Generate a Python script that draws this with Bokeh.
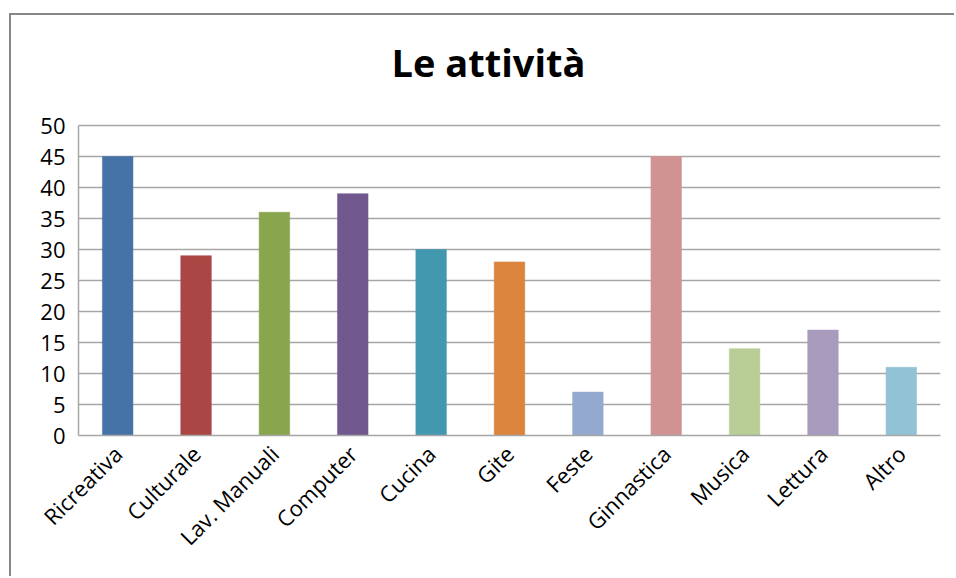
import math
from bokeh.plotting import figure
from bokeh.models import ColumnDataSource, FixedTicker, Label, Range1d
from bokeh.embed import file_html
from bokeh.resources import INLINE

categories = ["Ricreativa", "Culturale", "Lav. Manuali", "Computer", "Cucina", "Gite",
              "Feste", "Ginnastica", "Musica", "Lettura", "Altro"]
values = [45, 29, 36, 39, 30, 28, 7, 45, 14, 17, 11]
colors = ["#4572A7", "#AA4643", "#89A54E", "#71588F", "#4198AF", "#DB843D",
          "#93A9CF", "#D19392", "#B9CD96", "#A99BBD", "#92C3D4"]
y_ticks = [0, 5, 10, 15, 20, 25, 30, 35, 40, 45, 50]
y_max = 50
title_text = "Le attività"

src = ColumnDataSource(dict(cat=categories, val=values, col=colors))

# the frame is extended upwards (beyond the axis maximum) to leave room for the title
p = figure(x_range=categories, y_range=Range1d(0, 66.13), width=945, height=563,
           output_backend="svg", toolbar_location=None,
           min_border_left=67, min_border_right=16, min_border_top=10, min_border_bottom=143)
p.styles = {"margin-left": "9px", "margin-top": "13px",
            "border-left": "2px solid #878787", "border-top": "2px solid #878787"}

p.vbar(x="cat", top="val", width=0.39, source=src, fill_color="col",
       line_color="col", line_alpha=0.5)

p.add_layout(Label(x=5.232, y=60.2, text=title_text, text_align="center",
                   text_baseline="alphabetic", text_font="Open Sans",
                   text_font_style="bold", text_font_size="38px", text_color="#000000"))

p.outline_line_color = None
p.x_range.range_padding = 0

p.yaxis.ticker = FixedTicker(ticks=y_ticks)
p.yaxis.bounds = (0, y_max)
p.yaxis.major_tick_line_color = None
p.yaxis.minor_tick_line_color = None
p.yaxis.axis_line_color = "#a6a6a6"
p.yaxis.axis_line_width = 1.5
p.yaxis.major_label_text_font = "Open Sans"
p.yaxis.major_label_text_font_size = "22px"
p.yaxis.major_label_text_color = "#000000"
p.yaxis.major_label_standoff = 7

p.xaxis.major_tick_line_color = None
p.xaxis.minor_tick_line_color = None
p.xaxis.axis_line_color = "#a6a6a6"
p.xaxis.axis_line_width = 1.5
p.xaxis.major_label_text_font = "Open Sans"
p.xaxis.major_label_text_font_size = "22px"
p.xaxis.major_label_text_color = "#000000"
p.xaxis.major_label_orientation = math.pi / 4
p.xaxis.major_label_standoff = 8

p.xgrid.grid_line_color = None
p.ygrid.grid_line_color = "#a6a6a6"
p.ygrid.grid_line_width = 1.5

open("out.html", "w").write(file_html(p, INLINE))
